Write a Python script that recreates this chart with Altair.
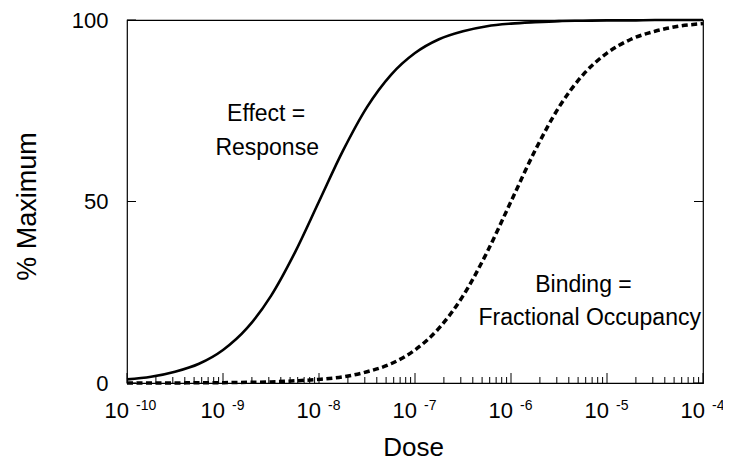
import altair as alt
import pandas as pd

# ---- data ----
dose_exp = [-10.0, -9.75, -9.5, -9.25, -9.0, -8.75, -8.5, -8.25, -8.0, -7.75, -7.5, -7.25,
            -7.0, -6.75, -6.5, -6.25, -6.0, -5.75, -5.5, -5.25, -5.0, -4.75, -4.5, -4.25, -4.0]
effect_pct = [1.0, 1.7, 3.1, 5.3, 9.1, 15.1, 24.0, 36.0, 50.0, 64.0, 76.0, 84.9,
              90.9, 94.7, 96.9, 98.3, 99.0, 99.4, 99.7, 99.8, 99.9, 99.9, 100.0, 100.0, 100.0]
binding_pct = [0.0, 0.0, 0.0, 0.1, 0.1, 0.2, 0.3, 0.6, 1.0, 1.7, 3.1, 5.3,
               9.1, 15.1, 24.0, 36.0, 50.0, 64.0, 76.0, 84.9, 90.9, 94.7, 96.9, 98.3, 99.0]

decade_exp = [-10, -9, -8, -7, -6, -5, -4]
decade_sup = ["-10", "-9", "-8", "-7", "-6", "-5", "-4"]
minor_mult = [2, 3, 4, 5, 6, 7, 8, 9]
y_tick_values = [0, 50, 100]

ann_text = ["Effect =", "Response", "Binding =", "Fractional Occupancy"]
ann_exp = [-8.55, -8.54, -5.245, -5.18]
ann_pct = [72.2, 62.8, 25.1, 16.0]

# ---- layout ----
W, H = 576, 363
FONT = "Liberation Sans"

effect_df = pd.DataFrame({"dose": [10 ** e for e in dose_exp], "pct": effect_pct})
binding_df = pd.DataFrame({"dose": [10 ** e for e in dose_exp], "pct": binding_pct})
major_df = pd.DataFrame({"dose": [10 ** e for e in decade_exp], "base": ["10"] * len(decade_exp),
                         "sup": decade_sup})
minor_df = pd.DataFrame({"dose": [m * 10 ** e for e in decade_exp[:-1] for m in minor_mult]})
yt_df = pd.DataFrame({"pct": y_tick_values})
ann_df = pd.DataFrame({"dose": [10 ** e for e in ann_exp], "pct": ann_pct, "text": ann_text})

xscale = alt.Scale(type="log", domain=[1e-10, 1e-4], nice=False)
yscale = alt.Scale(domain=[0, 100], nice=False, zero=False)

x_axis = alt.Axis(labels=False, ticks=False, domain=False, grid=False,
                  title="Dose", titleFont=FONT, titleFontSize=26, titleFontWeight="normal",
                  titleColor="black", titleX=286, titleY=72, titleBaseline="alphabetic",
                  titleAlign="center")
y_axis = alt.Axis(values=y_tick_values, ticks=False, tickSize=0, domain=False, grid=False,
                  labelFont=FONT, labelFontSize=22, labelColor="black", labelPadding=19,
                  title="% Maximum", titleFont=FONT, titleFontSize=27, titleFontWeight="normal",
                  titleColor="black", titleX=-92, titleY=186, titleAngle=270,
                  titleBaseline="alphabetic", titleAlign="center")

X = alt.X("dose:Q", scale=xscale, axis=x_axis)
Y = alt.Y("pct:Q", scale=yscale, axis=y_axis)

minor_ticks = alt.Chart(minor_df).mark_rule(color="black", strokeWidth=1).encode(
    x=X, y=alt.value(H), y2=alt.value(H - 6))
major_ticks = alt.Chart(major_df).mark_rule(color="black", strokeWidth=1).encode(
    x=X, y=alt.value(H), y2=alt.value(H - 10))
left_ticks = alt.Chart(yt_df).mark_rule(color="black", strokeWidth=1).encode(
    y=Y, x=alt.value(0), x2=alt.value(9))
right_ticks = alt.Chart(yt_df).mark_rule(color="black", strokeWidth=1).encode(
    y=Y, x=alt.value(W - 9), x2=alt.value(W))

base_lbl = alt.Chart(major_df).mark_text(align="right", baseline="alphabetic", dx=2,
                                         font=FONT, fontSize=22, color="black").encode(
    x=X, y=alt.value(H + 35), text="base:N")
sup_lbl = alt.Chart(major_df).mark_text(align="left", baseline="alphabetic", dx=9,
                                        font=FONT, fontSize=14, color="black").encode(
    x=X, y=alt.value(H + 27), text="sup:N")

effect_line = alt.Chart(effect_df).mark_line(color="black", strokeWidth=2.6,
                                             interpolate="monotone").encode(x=X, y=Y)
binding_line = alt.Chart(binding_df).mark_line(color="black", strokeWidth=3.5,
                                               strokeDash=[6, 3.5], strokeCap="butt",
                                               interpolate="monotone").encode(x=X, y=Y)

ann = alt.Chart(ann_df).mark_text(align="center", baseline="alphabetic", font=FONT,
                                  fontSize=23, color="black").encode(x=X, y=Y, text="text:N")

chart = alt.layer(
    minor_ticks, major_ticks, left_ticks, right_ticks, effect_line, binding_line,
    base_lbl, sup_lbl, ann
).properties(
    width=W, height=H,
    autosize=alt.AutoSizeParams(type="none"),
    padding={"left": 119, "top": 12, "right": 20, "bottom": 79},
    background="white",
).configure_view(stroke="black", strokeWidth=1.2)

chart.save("out.html", embed_options={"renderer": "svg", "actions": False})
